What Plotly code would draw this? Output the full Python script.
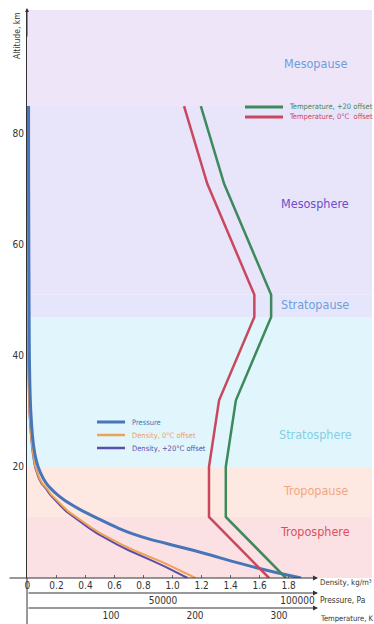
import plotly.graph_objects as go

# ---------------------------------------------------------------- data
altitude_km = [0, 1, 2, 3, 4, 5, 6, 7, 8, 9, 10, 11, 12, 13, 14, 15, 16, 17, 18,
               20, 22, 25, 30, 35, 40, 50, 60, 70, 80, 85]
pressure_pa = [101300, 92000, 83500, 75800, 68600, 61200, 53000, 45000, 38500, 33300,
               28800, 24500, 20400, 16700, 13400, 10700, 8500, 6700, 5400,
               3600, 2500, 1600, 850, 500, 320, 200, 120, 60, 20, 10]
density_0c = [1.158, 1.083, 1.00, 0.918, 0.82, 0.733, 0.651, 0.576, 0.507, 0.445,
              0.39, 0.336, 0.281, 0.24, 0.199, 0.164, 0.137, 0.103, 0.082,
              0.055, 0.041, 0.027, 0.014, 0.009, 0.006, 0.002, 0.0008, 0.0003, 0.0001, 0.00005]
density_20c = [1.103, 1.03, 0.952, 0.87, 0.78, 0.697, 0.619, 0.548, 0.482, 0.423,
               0.37, 0.32, 0.268, 0.228, 0.19, 0.156, 0.13, 0.098, 0.078,
               0.052, 0.039, 0.026, 0.013, 0.008, 0.005, 0.002, 0.0008, 0.0003, 0.0001, 0.00005]

temp_alt_km = [0, 11, 20, 32, 47, 51, 71, 85]
temp_0c_k = [288.15, 216.65, 216.65, 228.65, 270.65, 270.65, 214.65, 186.95]
temp_20_k = [308.15, 236.65, 236.65, 248.65, 290.65, 290.65, 234.65, 206.95]

layer_names = ["Troposphere", "Tropopause", "Stratosphere", "Stratopause", "Mesosphere", "Mesopause"]
layer_bottom_km = [0, 11, 20, 47, 51, 85]
layer_top_km = [11, 20, 47, 51, 85, 102.3]
layer_label_km = [8.3, 15.7, 25.9, 49.2, 67.5, 92.6]

density_ticks = [0, 0.2, 0.4, 0.6, 0.8, 1.0, 1.2, 1.4, 1.6, 1.8]
density_tick_text = ["0", "0.2", "0.4", "0.6", "0.8", "1.0", "1.2", "1.4", "1.6", "1.8"]
pressure_ticks = [50000, 100000]
temperature_ticks = [100, 200, 300]
altitude_ticks = [20, 40, 60, 80]

# ---------------------------------------------------------------- styling
W, H = 374, 624
ML, MR, MT, MB = 27, 2, 10, 0
PW, PH = W - ML - MR, H - MT - MB

layer_fill = ["#fbe1e4", "#fde9e2", "#e0f6fc", "#e5e6fb", "#e8e4fa", "#efe5f9"]
layer_text = ["#de4f5e", "#f2a67d", "#84cfe5", "#6d9edb", "#6a4fc6", "#6a9edb"]

C_PRESSURE = "#4775b8"
C_DENS0 = "#f0a152"
C_DENS20 = "#5d4ea6"
C_T0 = "#c9485e"
C_T20 = "#3d8a5c"
AXIS = "#333333"

NARROW = "DejaVu Sans Condensed, Liberation Sans Narrow, Arial Narrow, sans-serif"


def px(x):
    return (x - ML) / PW


def py(y):
    return (H - MB - y) / PH


fig = go.Figure()

# density curves on the main x axis
fig.add_trace(go.Scatter(x=density_20c, y=altitude_km, mode="lines", xaxis="x", yaxis="y",
                         line=dict(color=C_DENS20, width=2), showlegend=False,
                         name="Density, +20°C offset"))
fig.add_trace(go.Scatter(x=density_0c, y=altitude_km, mode="lines", xaxis="x", yaxis="y",
                         line=dict(color=C_DENS0, width=2), showlegend=False,
                         name="Density, 0°C offset"))
# pressure on the second axis
fig.add_trace(go.Scatter(x=pressure_pa, y=altitude_km, mode="lines", xaxis="x2", yaxis="y",
                         line=dict(color=C_PRESSURE, width=3, shape="spline", smoothing=0.6),
                         showlegend=False, name="Pressure"))
# temperature profiles on the third axis
fig.add_trace(go.Scatter(x=temp_0c_k, y=temp_alt_km, mode="lines", xaxis="x3", yaxis="y",
                         line=dict(color=C_T0, width=2.5), showlegend=False,
                         name="Temperature, 0°C  offset"))
fig.add_trace(go.Scatter(x=temp_20_k, y=temp_alt_km, mode="lines", xaxis="x3", yaxis="y",
                         line=dict(color=C_T20, width=2.5), showlegend=False,
                         name="Temperature, +20 offset"))

shapes = []
annotations = []

# atmospheric layer bands and their names
for name, b, t, fill, tc, ly in zip(layer_names, layer_bottom_km, layer_top_km,
                                    layer_fill, layer_text, layer_label_km):
    shapes.append(dict(type="rect", xref="paper", yref="y", x0=0, x1=1, y0=b, y1=t,
                       fillcolor=fill, line=dict(width=0), layer="below"))
    annotations.append(dict(text=name, xref="paper", yref="y", x=px(315), y=ly,
                            showarrow=False, xanchor="center", yanchor="middle",
                            font=dict(family=NARROW, size=12.5, color=tc)))

# y axis extension below the plot and the axis arrows
shapes.append(dict(type="line", xref="paper", yref="paper", x0=0, x1=0, y0=py(578), y1=py(624),
                   line=dict(color=AXIS, width=1)))
for ybase, tail in [(578, 8), (593, 27), (608, 27)]:
    annotations.append(dict(text="", xref="paper", yref="paper", x=px(318), y=py(ybase),
                            ax=-(318 - tail), ay=0, showarrow=True, arrowhead=2,
                            arrowsize=1, arrowwidth=1, arrowcolor=AXIS, standoff=0))
annotations.append(dict(text="", xref="paper", yref="paper", x=0, y=py(8),
                        ax=0, ay=30, showarrow=True, arrowhead=2, arrowsize=0.8,
                        arrowwidth=1, arrowcolor=AXIS, standoff=0))

# axis titles
for txt, ybase, size in [("Density, kg/m³", 582, 7.8), ("Pressure, Pa", 600, 8.3),
                         ("Temperature, K", 618, 7.6)]:
    annotations.append(dict(text=txt, xref="paper", yref="paper", x=px(318), y=py(ybase),
                            showarrow=False, xanchor="left", yanchor="middle",
                            font=dict(family=NARROW, size=size, color=AXIS)))
annotations.append(dict(text="Altitude, km", xref="paper", yref="paper", x=px(17), y=py(36),
                        showarrow=False, textangle=-90, xanchor="center", yanchor="middle",
                        font=dict(family=NARROW, size=8.5, color=AXIS)))

# legends
legend_lower = [("Pressure", C_PRESSURE, 3), ("Density, 0°C offset", C_DENS0, 2.5),
                ("Density, +20°C offset", C_DENS20, 2.5)]
for i, (txt, col, w) in enumerate(legend_lower):
    yy = 422 + i * 13
    shapes.append(dict(type="line", xref="paper", yref="paper", x0=px(97), x1=px(125),
                       y0=py(yy), y1=py(yy), line=dict(color=col, width=w)))
    annotations.append(dict(text=txt, xref="paper", yref="paper", x=px(130), y=py(yy),
                            showarrow=False, xanchor="left", yanchor="middle",
                            font=dict(family=NARROW, size=7.5, color=col)))
legend_upper = [("Temperature, +20 offset", C_T20), ("Temperature, 0°C  offset", C_T0)]
for i, (txt, col) in enumerate(legend_upper):
    yy = 107 + i * 10
    shapes.append(dict(type="line", xref="paper", yref="paper", x0=px(245), x1=px(283),
                       y0=py(yy), y1=py(yy), line=dict(color=col, width=3)))
    annotations.append(dict(text=txt, xref="paper", yref="paper", x=px(287), y=py(yy),
                            showarrow=False, xanchor="left", yanchor="middle",
                            font=dict(family=NARROW, size=7.5, color=col)))

tick_font = dict(family=NARROW, size=10, color=AXIS)

fig.update_layout(
    width=W, height=H,
    margin=dict(l=ML, r=MR, t=MT, b=MB, pad=0),
    paper_bgcolor="white", plot_bgcolor="rgba(0,0,0,0)",
    shapes=shapes, annotations=annotations,
    showlegend=False,
    yaxis=dict(range=[0, 102.3], domain=[py(578), 1], tickvals=altitude_ticks,
               showgrid=False, zeroline=False, showline=True, linecolor=AXIS, linewidth=1,
               ticks="", tickfont=tick_font, fixedrange=True),
    xaxis=dict(range=[-0.003, PW / 145.1 - 0.003], tickvals=density_ticks,
               ticktext=density_tick_text,
               anchor="y", showgrid=False, zeroline=False, showline=False,
               ticks="inside", ticklen=3, tickcolor="#666", tickfont=tick_font),
    xaxis2=dict(range=[-1.5 / 0.00269, (PW - 1.5) / 0.00269], tickvals=pressure_ticks,
                tickformat="d", overlaying="x", anchor="free", position=py(593),
                showgrid=False, zeroline=False, showline=False, ticks="",
                tickfont=tick_font),
    xaxis3=dict(range=[0, PW / 0.84], tickvals=temperature_ticks, overlaying="x",
                anchor="free", position=py(608), showgrid=False, zeroline=False,
                showline=False, ticks="", tickfont=tick_font),
)

fig.write_html("out.html")
